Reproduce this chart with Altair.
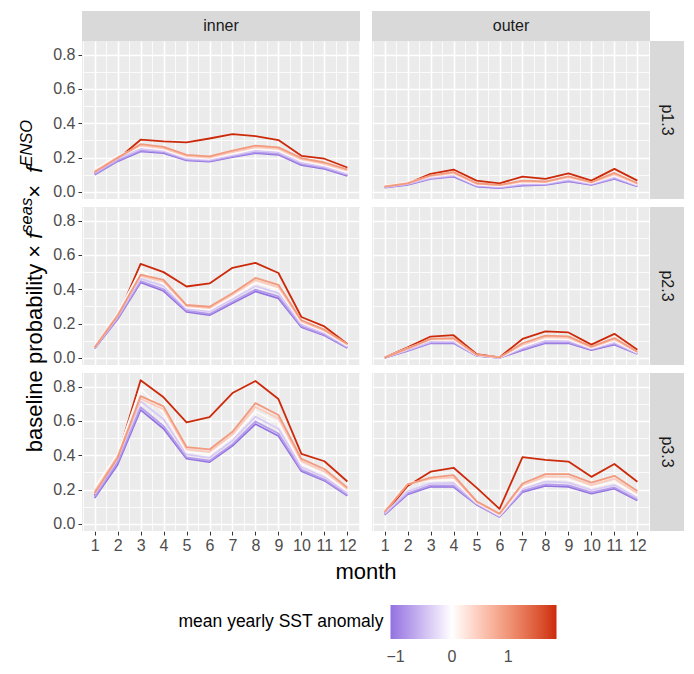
import altair as alt
import pandas as pd

# ---------------- data ----------------
months = list(range(1, 13))
locations = ["inner", "outer"]
parts = ["p1.3", "p2.3", "p3.3"]

# anomaly of each line (drawing order: red year first)
anomalies = [1.86, -1.09, -0.75, -0.40, 0.05, 0.50, 0.95]

inner_p1_3 = [
    [0.108, 0.190, 0.304, 0.294, 0.288, 0.311, 0.337, 0.325, 0.302, 0.210, 0.193, 0.142],
    [0.100, 0.178, 0.236, 0.226, 0.183, 0.176, 0.202, 0.226, 0.216, 0.156, 0.134, 0.093],
    [0.104, 0.183, 0.242, 0.231, 0.188, 0.180, 0.207, 0.232, 0.222, 0.162, 0.140, 0.098],
    [0.112, 0.192, 0.250, 0.238, 0.194, 0.186, 0.214, 0.240, 0.230, 0.170, 0.147, 0.105],
    [0.128, 0.210, 0.262, 0.246, 0.201, 0.193, 0.222, 0.250, 0.240, 0.180, 0.155, 0.114],
    [0.120, 0.202, 0.270, 0.254, 0.208, 0.200, 0.231, 0.260, 0.250, 0.189, 0.163, 0.123],
    [0.116, 0.198, 0.278, 0.262, 0.215, 0.207, 0.240, 0.270, 0.259, 0.197, 0.171, 0.131],
]
inner_p2_3 = [
    [0.058, 0.238, 0.548, 0.500, 0.416, 0.434, 0.525, 0.554, 0.495, 0.238, 0.183, 0.081],
    [0.055, 0.225, 0.440, 0.390, 0.268, 0.249, 0.318, 0.387, 0.347, 0.179, 0.130, 0.057],
    [0.056, 0.230, 0.448, 0.400, 0.275, 0.256, 0.327, 0.398, 0.358, 0.185, 0.135, 0.061],
    [0.058, 0.240, 0.462, 0.418, 0.285, 0.270, 0.342, 0.418, 0.378, 0.195, 0.145, 0.066],
    [0.066, 0.262, 0.510, 0.432, 0.294, 0.281, 0.357, 0.438, 0.398, 0.205, 0.152, 0.071],
    [0.062, 0.252, 0.478, 0.445, 0.301, 0.290, 0.368, 0.453, 0.413, 0.212, 0.158, 0.076],
    [0.060, 0.245, 0.485, 0.455, 0.308, 0.298, 0.377, 0.466, 0.426, 0.219, 0.164, 0.081],
]
inner_p3_3 = [
    [0.165, 0.390, 0.838, 0.738, 0.592, 0.623, 0.763, 0.833, 0.728, 0.408, 0.365, 0.247],
    [0.150, 0.345, 0.665, 0.555, 0.380, 0.360, 0.455, 0.582, 0.512, 0.307, 0.252, 0.164],
    [0.160, 0.360, 0.680, 0.570, 0.388, 0.368, 0.465, 0.597, 0.527, 0.315, 0.258, 0.169],
    [0.172, 0.378, 0.715, 0.610, 0.405, 0.385, 0.485, 0.625, 0.555, 0.330, 0.272, 0.180],
    [0.210, 0.410, 0.790, 0.650, 0.420, 0.405, 0.505, 0.655, 0.590, 0.348, 0.290, 0.192],
    [0.190, 0.395, 0.730, 0.668, 0.435, 0.420, 0.522, 0.682, 0.615, 0.365, 0.306, 0.202],
    [0.180, 0.385, 0.745, 0.685, 0.448, 0.434, 0.537, 0.704, 0.635, 0.379, 0.320, 0.211],
]
outer_p1_3 = [
    [0.028, 0.048, 0.105, 0.130, 0.065, 0.049, 0.089, 0.075, 0.108, 0.065, 0.134, 0.065],
    [0.025, 0.041, 0.075, 0.089, 0.031, 0.022, 0.036, 0.040, 0.061, 0.041, 0.075, 0.031],
    [0.026, 0.043, 0.078, 0.092, 0.034, 0.025, 0.040, 0.044, 0.065, 0.044, 0.079, 0.034],
    [0.028, 0.046, 0.082, 0.097, 0.038, 0.029, 0.046, 0.048, 0.071, 0.047, 0.086, 0.038],
    [0.035, 0.055, 0.088, 0.103, 0.042, 0.033, 0.053, 0.052, 0.078, 0.050, 0.094, 0.042],
    [0.032, 0.051, 0.092, 0.109, 0.046, 0.037, 0.059, 0.056, 0.084, 0.053, 0.102, 0.046],
    [0.030, 0.049, 0.096, 0.115, 0.050, 0.040, 0.065, 0.060, 0.090, 0.056, 0.110, 0.050],
]
outer_p2_3 = [
    [0.002, 0.061, 0.124, 0.132, 0.022, 0.002, 0.110, 0.154, 0.148, 0.077, 0.140, 0.047],
    [0.000, 0.041, 0.085, 0.085, 0.012, 0.000, 0.045, 0.085, 0.085, 0.045, 0.077, 0.022],
    [0.000, 0.043, 0.088, 0.088, 0.013, 0.000, 0.050, 0.092, 0.090, 0.049, 0.082, 0.024],
    [0.001, 0.046, 0.094, 0.095, 0.014, 0.001, 0.058, 0.100, 0.100, 0.053, 0.090, 0.027],
    [0.002, 0.056, 0.104, 0.102, 0.016, 0.001, 0.066, 0.110, 0.108, 0.057, 0.098, 0.030],
    [0.001, 0.052, 0.107, 0.109, 0.017, 0.002, 0.076, 0.120, 0.116, 0.061, 0.107, 0.032],
    [0.001, 0.055, 0.110, 0.115, 0.018, 0.002, 0.085, 0.130, 0.125, 0.065, 0.115, 0.035],
]
outer_p3_3 = [
    [0.059, 0.221, 0.304, 0.327, 0.211, 0.087, 0.389, 0.373, 0.363, 0.274, 0.349, 0.245],
    [0.053, 0.172, 0.217, 0.215, 0.112, 0.040, 0.185, 0.221, 0.215, 0.176, 0.205, 0.136],
    [0.056, 0.178, 0.224, 0.222, 0.115, 0.042, 0.192, 0.230, 0.224, 0.183, 0.212, 0.142],
    [0.060, 0.190, 0.236, 0.238, 0.120, 0.046, 0.203, 0.246, 0.240, 0.196, 0.226, 0.152],
    [0.075, 0.240, 0.252, 0.256, 0.124, 0.050, 0.215, 0.262, 0.258, 0.212, 0.245, 0.165],
    [0.068, 0.232, 0.262, 0.271, 0.128, 0.055, 0.225, 0.277, 0.275, 0.226, 0.263, 0.178],
    [0.070, 0.230, 0.270, 0.284, 0.132, 0.059, 0.235, 0.290, 0.290, 0.240, 0.280, 0.191],
]

panel_values = {
    ("inner", "p1.3"): inner_p1_3, ("inner", "p2.3"): inner_p2_3, ("inner", "p3.3"): inner_p3_3,
    ("outer", "p1.3"): outer_p1_3, ("outer", "p2.3"): outer_p2_3, ("outer", "p3.3"): outer_p3_3,
}

y_major = [0.0, 0.2, 0.4, 0.6, 0.8]
y_minor = [0.1, 0.3, 0.5, 0.7]
x_minor = [0.5, 1.5, 2.5, 3.5, 4.5, 5.5, 6.5, 7.5, 8.5, 9.5, 10.5, 11.5, 12.5]
legend_values = [-1, 0, 1]
x_title = "month"
legend_title = "mean yearly SST anomaly"
# y title: (text, style, superscript)
y_title_pieces = [("baseline probability × ", "normal", False), ("f", "italic", False),
                  ("seas", "italic", True), (" × ", "normal", False), ("f", "italic", False),
                  ("ENSO", "italic", True)]

# ---------------- styling ----------------
FONT = "Liberation Sans"
AXIS_TITLE_FS = 22
LEGEND_TITLE_FS = 17.5
TICK_FS = 16
STRIP_FS = 16
PW, PH = 278, 158          # panel size
STRIP_H, STRIP_W = 30, 34
GAP_COL, GAP_ROW = 12, 8
LEFT_EXTENT, TOP_EXTENT = 73.5, 33

# ---------------- table ----------------
rows = []
for (loc, part), series in panel_values.items():
    for k, (anom, vals) in enumerate(zip(anomalies, series)):
        for m, v in zip(months, vals):
            rows.append(dict(kind="line", loc=loc, part=part, line=k, anom=anom, month=m, value=v))
for loc in locations:
    rows.append(dict(kind="top", loc=loc, part=parts[0], label=loc))
for part in parts:
    rows.append(dict(kind="right", loc=locations[-1], part=part, label=part))
rows.append(dict(kind="pad", loc=locations[0], part=parts[0]))
rows.append(dict(kind="xtitle", loc=locations[0], part=parts[-1], label=x_title))
for i, (t, _, _) in enumerate(y_title_pieces):
    rows.append(dict(kind="yt%d" % i, loc=locations[0], part=parts[1], label=t))
df = pd.DataFrame(rows)

x_scale = alt.Scale(domain=[0.45, 12.55], nice=False, zero=False)
y_scale = alt.Scale(domain=[-0.042, 0.880], nice=False, zero=False)
color_scale = alt.Scale(domain=[-1.09, 0, 1.86], range=["#9272e0", "#ffffff", "#cc2a0a"], interpolate="lab")

legend = alt.Legend(
    title=legend_title, orient="none", legendX=96.5, legendY=564,
    direction="horizontal", titleOrient="left", titleFontSize=LEGEND_TITLE_FS, titleFontWeight="normal",
    titleColor="black", titleFont=FONT, titleBaseline="middle", titlePadding=6, titleLimit=400,
    labelFontSize=TICK_FS, labelColor="#4D4D4D", labelFont=FONT,
    gradientLength=166, gradientThickness=34, gradientStrokeWidth=0,
    values=legend_values, labelOffset=10,
    labelExpr="datum.value < 0 ? '\u2212' + format(-datum.value, 'd') : format(datum.value, 'd')",
)

x_axis = alt.Axis(
    values=sorted(months + x_minor), labelFontSize=TICK_FS, labelColor="#4D4D4D", labelFont=FONT,
    labelExpr="datum.value % 1 == 0 ? format(datum.value, 'd') : ''",
    tickColor="#333333", tickSize=4, tickWidth=1,
    tickOpacity=alt.condition("datum.value % 1 != 0", alt.value(0), alt.value(1)),
    domain=False, grid=True, gridColor="white",
    gridWidth=alt.condition("datum.value % 1 != 0", alt.value(0.8), alt.value(1.6)),
    title=None, labelPadding=2, labelOverlap=False, labelFlush=False)

y_axis = alt.Axis(
    values=sorted(y_major + y_minor), labelFontSize=TICK_FS, labelColor="#4D4D4D", labelFont=FONT,
    labelExpr="round(datum.value * 10) % 2 == 0 ? format(datum.value, '.1f') : ''",
    tickColor="#333333", tickSize=4, tickWidth=1,
    tickOpacity=alt.condition("round(datum.value * 10) % 2 == 1", alt.value(0), alt.value(1)),
    domain=False, grid=True, gridColor="white",
    gridWidth=alt.condition("round(datum.value * 10) % 2 == 1", alt.value(0.8), alt.value(1.6)),
    title=None, labelPadding=3, labelOverlap=False, labelFlush=False)

base = alt.Chart()

lines = base.transform_filter(alt.datum.kind == "line").mark_line(strokeWidth=1.8, strokeJoin="round").encode(
    x=alt.X("month:Q", scale=x_scale, axis=x_axis),
    y=alt.Y("value:Q", scale=y_scale, axis=y_axis),
    color=alt.Color("anom:Q", scale=color_scale, legend=legend),
    detail="line:N",
)

top_rect = base.transform_filter(alt.datum.kind == "top").mark_rect(color="#D9D9D9").encode(
    x=alt.value(0), x2=alt.value(PW), y=alt.value(-STRIP_H), y2=alt.value(0))
top_text = base.transform_filter(alt.datum.kind == "top").mark_text(
    fontSize=STRIP_FS, color="#1A1A1A", font=FONT, baseline="middle", align="center"
).encode(text="label:N", x=alt.value(PW / 2), y=alt.value(-STRIP_H / 2))

right_rect = base.transform_filter(alt.datum.kind == "right").mark_rect(color="#D9D9D9").encode(
    x=alt.value(PW), x2=alt.value(PW + STRIP_W), y=alt.value(0), y2=alt.value(PH))
right_text = base.transform_filter(alt.datum.kind == "right").mark_text(
    fontSize=STRIP_FS, color="#1A1A1A", font=FONT, baseline="middle", align="center", angle=90
).encode(text="label:N", x=alt.value(PW + STRIP_W / 2), y=alt.value(PH / 2))

pad_rect = base.transform_filter(alt.datum.kind == "pad").mark_rect(opacity=0).encode(
    x=alt.value(-LEFT_EXTENT), x2=alt.value(-LEFT_EXTENT + 2),
    y=alt.value(-TOP_EXTENT), y2=alt.value(-TOP_EXTENT + 2))

xtitle = base.transform_filter(alt.datum.kind == "xtitle").mark_text(
    fontSize=AXIS_TITLE_FS, font=FONT, color="black", baseline="middle", align="center"
).encode(text="label:N", x=alt.value(PW + GAP_COL / 2), y=alt.value(PH + 41))

# y title pieces laid out along the axis (reading bottom to top)
W = {" ": .278, "×": .584, "a": .556, "b": .556, "e": .556, "f": .278, "i": .222, "l": .222,
     "n": .556, "o": .556, "p": .556, "r": .333, "s": .5, "t": .278, "y": .5,
     "E": .667, "N": .722, "S": .667, "O": .778}
SUP = 0.75
widths = [sum(W.get(c, .556) for c in t) * AXIS_TITLE_FS * (SUP if sup else 1) for t, _, sup in y_title_pieces]
pos = PH / 2 + sum(widths) / 2
base_x = -40.5
yt_layers = []
for i, ((t, style, sup), w) in enumerate(zip(y_title_pieces, widths)):
    yt_layers.append(base.transform_filter(alt.datum.kind == "yt%d" % i).mark_text(
        angle=270, align="left", baseline="alphabetic", font=FONT, fontStyle=style, color="black",
        fontSize=AXIS_TITLE_FS * (SUP if sup else 1)
    ).encode(text="label:N", x=alt.value(base_x - (0.42 * AXIS_TITLE_FS if sup else 0)), y=alt.value(pos)))
    pos -= w

layered = alt.layer(lines, top_rect, top_text, right_rect, right_text, pad_rect, xtitle, *yt_layers).properties(
    width=PW, height=PH)

chart = layered.facet(
    row=alt.Row("part:N", header=None, sort=parts),
    column=alt.Column("loc:N", header=None, sort=locations),
    data=df,
    spacing={"row": GAP_ROW, "column": GAP_COL},
    bounds="flush",
).properties(padding=0).configure(font=FONT).configure_view(fill="#EBEBEB", stroke=None)

chart.save("out.html", embed_options={"renderer": "svg", "actions": False})
